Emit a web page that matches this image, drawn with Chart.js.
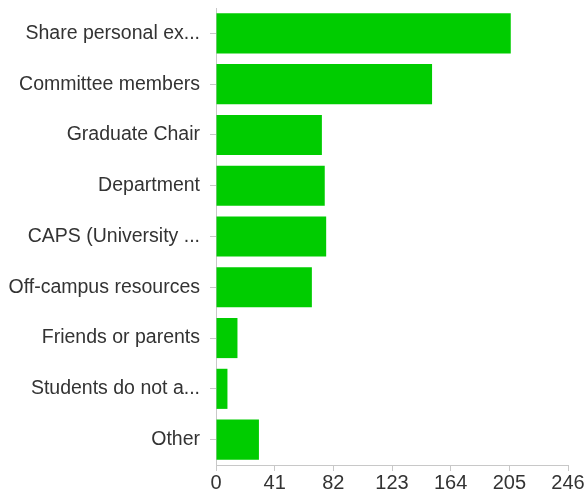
<!DOCTYPE html>
<html>
<head>
<meta charset="utf-8">
<script src="https://cdn.jsdelivr.net/npm/chart.js@4/dist/chart.umd.min.js"></script>
<style>
  html, body { margin: 0; padding: 0; background: #fff; }
  #wrap { width: 584px; height: 496px; }
</style>
</head>
<body>
<div id="wrap"><canvas id="myChart"></canvas></div>
<script>
const categories = [
  "Share personal ex...",
  "Committee members",
  "Graduate Chair",
  "Department",
  "CAPS (University ...",
  "Off-campus resources",
  "Friends or parents",
  "Students do not a...",
  "Other"
];
const counts = [206, 151, 74, 76, 77, 67, 15, 8, 30];
const tickValues = [0, 41, 82, 123, 164, 205, 246];

const ctx = document.getElementById("myChart");

new Chart(ctx, {
  type: "bar",
  data: {
    labels: categories,
    datasets: [
      {
        label: "Responses",
        data: counts,
        backgroundColor: "#00cc00",
        borderWidth: 0,
        barPercentage: 0.79,
        categoryPercentage: 1,
      },
    ],
  },
  options: {
    indexAxis: "y",
    responsive: true,
    maintainAspectRatio: false,
    animation: false,
    layout: { padding: 0 },
    plugins: {
      legend: { display: false },
      tooltip: { enabled: false },
    },
    scales: {
      x: {
        min: 0,
        max: 246,
        afterBuildTicks: (scale) => {
          scale.ticks = tickValues.map((v) => ({ value: v }));
        },
        afterFit: (scale) => {
          scale.paddingRight = 16;
        },
        grid: {
          drawOnChartArea: false,
          drawTicks: true,
          tickLength: 6,
          color: "#c8c8c8",
        },
        border: { color: "#c8c8c8" },
        ticks: {
          color: "#333",
          padding: 2,
          maxRotation: 0,
          font: { family: "Liberation Sans", size: 20, lineHeight: 1.05 },
        },
      },
      y: {
        afterFit: (scale) => {
          // fixed label column and a small gap above the first bar
          scale.width = 216;
          scale.paddingTop = 8;
        },
        grid: {
          offset: false,
          drawOnChartArea: false,
          drawTicks: true,
          tickLength: 6,
          color: "#c8c8c8",
        },
        border: { color: "#c8c8c8" },
        ticks: {
          color: "#333",
          padding: 10,
          autoSkip: false,
          font: { family: "Liberation Sans", size: 19.5 },
        },
      },
    },
  },
});
</script>
</body>
</html>
